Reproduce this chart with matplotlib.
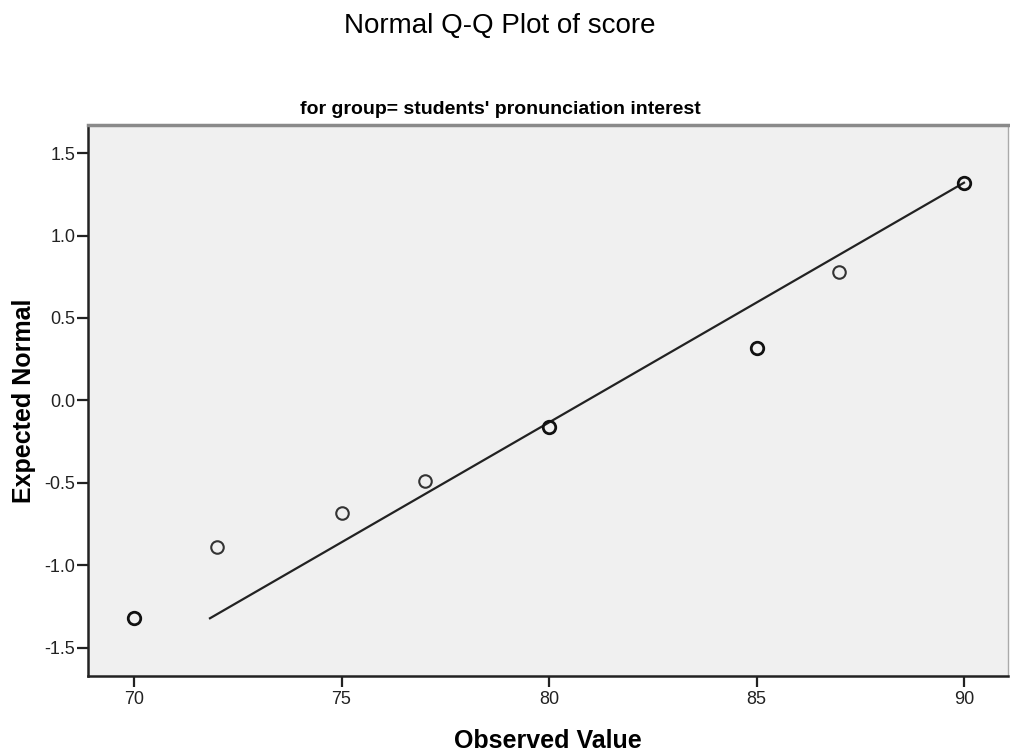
import matplotlib.pyplot as plt

plt.rcParams['font.family'] = ['Liberation Sans', 'DejaVu Sans']

# Observed scores and their expected normal values
observed = [70, 72, 75, 77, 80, 85, 87, 90]
expected = [-1.32, -0.89, -0.68, -0.49, -0.16, 0.32, 0.78, 1.32]
# how many cases share each point (ties are drawn darker)
counts = [2, 1, 1, 1, 2, 2, 1, 2]

# reference line endpoints
line_x = [71.83, 90]
line_y = [-1.32, 1.32]

x_ticks = [70, 75, 80, 85, 90]
y_ticks = [-1.5, -1.0, -0.5, 0.0, 0.5, 1.0, 1.5]

fig = plt.figure(figsize=(10.1, 7.56), dpi=100)
ax = fig.add_axes([0.0871, 0.1058, 0.9109, 0.7289])
ax.set_facecolor('#f0f0f0')

ax.plot(line_x, line_y, color='#222222', linewidth=1.6, zorder=2)

for x, y, c in zip(observed, expected, counts):
    ax.plot(x, y, marker='o', markersize=9, markerfacecolor='none',
            markeredgecolor='#111111' if c > 1 else '#333333',
            markeredgewidth=2.0 if c > 1 else 1.5, linestyle='none', zorder=3)

ax.set_xlim(68.89, 91.06)
ax.set_ylim(-1.67, 1.67)
ax.set_xticks(x_ticks)
ax.set_yticks(y_ticks)
ax.set_xticklabels([str(t) for t in x_ticks])
ax.set_yticklabels([f'{t:.1f}' for t in y_ticks])
ax.tick_params(axis='both', direction='out', length=8, width=1.6, color='#222222',
               labelsize=13, labelcolor='#222222')
ax.tick_params(axis='x', pad=3)
ax.tick_params(axis='y', pad=1)

ax.spines['left'].set_linewidth(1.8)
ax.spines['left'].set_color('#222222')
ax.spines['bottom'].set_linewidth(1.8)
ax.spines['bottom'].set_color('#222222')
ax.spines['top'].set_linewidth(2.5)
ax.spines['top'].set_color('#8a8a8a')
ax.spines['right'].set_linewidth(1.0)
ax.spines['right'].set_color('#aaaaaa')

ax.set_xlabel('Observed Value', fontsize=18, fontweight='bold', labelpad=15)
ax.set_ylabel('Expected Normal', fontsize=18, fontweight='bold', labelpad=6)

fig.text(0.495, 1 - 26 / 756, 'Normal Q-Q Plot of score', ha='center', va='center',
         fontsize=20)
fig.text(0.495, 1 - 110 / 756, "for group= students' pronunciation interest",
         ha='center', va='center', fontsize=14, fontweight='bold')

fig.savefig('out.png', dpi=100)
